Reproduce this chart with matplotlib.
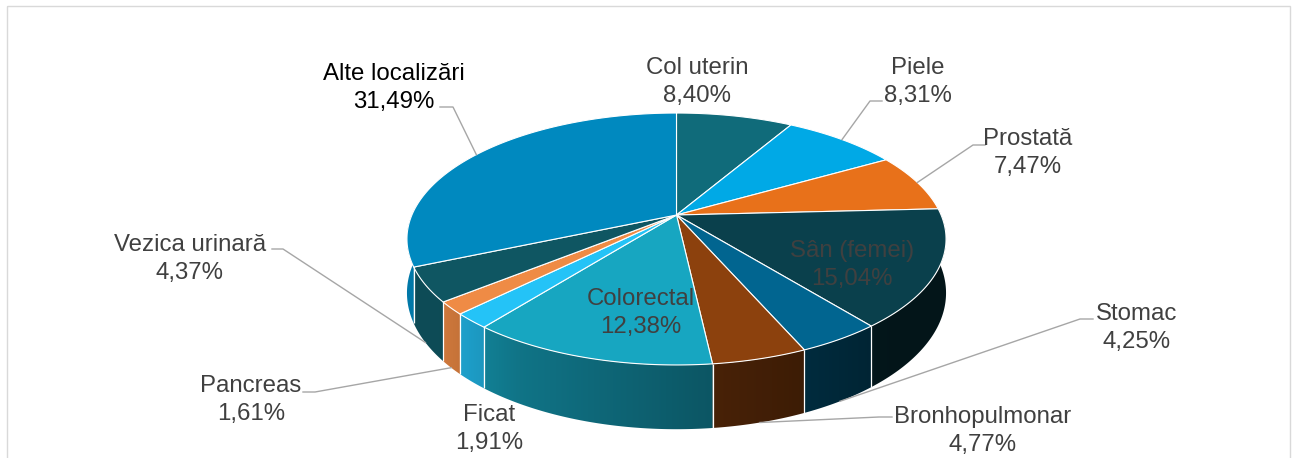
import numpy as np
import matplotlib
matplotlib.use("Agg")
import matplotlib.pyplot as plt
from matplotlib.patches import Polygon, Rectangle
from matplotlib.colors import to_rgb

# ---- data -------------------------------------------------------------
categories = ["Col uterin", "Piele", "Prostată", "Sân (femei)", "Stomac",
              "Bronhopulmonar", "Colorectal", "Ficat", "Pancreas",
              "Vezica urinară", "Alte localizări"]
shares = [8.40, 8.31, 7.47, 15.04, 4.25, 4.77, 12.38, 1.91, 1.61, 4.37, 31.49]
colors = ["#106b7a", "#00a9e6", "#e8711a", "#0a404c", "#016590", "#8c410d",
          "#17a6c1", "#24c3f7", "#ef8b45", "#0f5662", "#0089bf"]

# ---- layout -----------------------------------------------------------
W, H = 1293, 458
CX, CY = 676.5, 215.0          # apex of the top face
A, B, K = 264.6, 121.4, 0.1905  # disc radii and perspective strength
DEPTH = 52.0                    # thickness of the disc
FONT = "Liberation Sans"
FS = 17.3
TXT = "#404040"
LEADER = "#a6a6a6"

# label placement: centre x, first baseline, second baseline
label_pos = {
    "Col uterin": (697, 74, 102),
    "Piele": (918, 74, 102),
    "Prostată": (1028, 145, 173),
    "Sân (femei)": (852, 257, 285),
    "Stomac": (1137, 320, 348),
    "Bronhopulmonar": (983, 423, 451),
    "Colorectal": (641, 305, 333),
    "Ficat": (489, 421, 449),
    "Pancreas": (251, 392, 420),
    "Vezica urinară": (190, 251, 279),
    "Alte localizări": (394, 80, 108),
}
# leader lines: points next to the label, the end lands on the slice
leader_pts = {
    "Alte localizări": [(440, 107), (453, 107)],
    "Piele": [(882, 101), (870, 101)],
    "Prostată": [(985, 145), (973, 145)],
    "Stomac": [(1093, 319), (1080, 319)],
    "Bronhopulmonar": [(892, 417), (879, 417)],
    "Pancreas": [(303, 392), (315, 392)],
    "Vezica urinară": [(272, 249), (283, 249)],
}

fig = plt.figure(figsize=(W / 100, H / 100), dpi=100)
ax = fig.add_axes([0, 0, 1, 1])
ax.axis("off")

ax.add_patch(Rectangle((7, 6), 1283, 470, fill=False, ec="#d9d9d9", lw=1.0))


def rim(theta, bottom=False):
    """Screen position of the disc rim at angle theta (clockwise from 12 o'clock)."""
    u = np.sin(theta)
    v = np.cos(theta)
    w = 1 + K * v
    x = CX + A * u / w
    y = CY - B * v / w
    if bottom:
        y = y + DEPTH / w
    return x, y


def shade(u):
    f = 0.55 - 0.3 * u + 0.3 * np.maximum(0.0, -u - 0.5)
    return np.clip(f, 0.33, 0.88)


total = sum(shares)
edges = np.concatenate([[0.0], np.cumsum(shares)]) / total * 2 * np.pi

# horizontal position -> rim coordinate u along the visible front wall
tf = np.linspace(np.pi / 2 + np.arcsin(K), 1.5 * np.pi - np.arcsin(K), 800)
xf, _ = rim(tf)
uf = np.sin(tf)
ordr = np.argsort(xf)
xf, uf = xf[ordr], uf[ordr]

# ---- side wall with a left-to-right light falloff -------------------------
t_lo, t_hi = np.deg2rad(86.0), np.deg2rad(274.0)
for i, c in enumerate(colors):
    t0, t1 = max(edges[i], t_lo), min(edges[i + 1], t_hi)
    if t1 <= t0:
        continue
    ts = np.linspace(t0, t1, 200)
    xt, yt = rim(ts)
    xb, yb = rim(ts[::-1], True)
    pts = np.column_stack([np.concatenate([xt, xb]), np.concatenate([yt, yb])])
    clip = Polygon(pts, closed=True, fc="none", ec="none", zorder=1)
    ax.add_patch(clip)
    x0, x1 = pts[:, 0].min() - 2, pts[:, 0].max() + 2
    y0, y1 = pts[:, 1].min() - 2, pts[:, 1].max() + 2
    cols = np.linspace(x0, x1, 300)
    u = np.interp(cols, xf, uf)
    rgb = np.array(to_rgb(c))[None, :] * shade(u)[:, None]
    img = np.repeat(rgb[None, :, :], 2, axis=0)
    im = ax.imshow(img, extent=(x0, x1, y1, y0), aspect="auto",
                   interpolation="bilinear", zorder=1)
    im.set_clip_path(clip)

# white seams on the visible wall
for t in edges[:-1]:
    if np.cos(t) < -K:
        x0, y0 = rim(t)
        x1, y1 = rim(t, True)
        ax.plot([x0, x1], [y0, y1], color="white", lw=0.9,
                solid_capstyle="butt", zorder=2)

# ---- top face ------------------------------------------------------------
for i, c in enumerate(colors):
    ts = np.linspace(edges[i], edges[i + 1], 200)
    xs, ys = rim(ts)
    pts = [(CX, CY)] + list(zip(xs, ys))
    ax.add_patch(Polygon(pts, closed=True, fc=c, ec="white", lw=0.8,
                         joinstyle="round", zorder=3))

# ---- leader lines --------------------------------------------------------
for i, name in enumerate(categories):
    if name not in leader_pts:
        continue
    tm = (edges[i] + edges[i + 1]) / 2
    ex, ey = rim(tm, bottom=np.cos(tm) < -K)
    pts = leader_pts[name] + [(ex, ey)]
    ax.plot([p[0] for p in pts], [p[1] for p in pts], color=LEADER, lw=1.0,
            zorder=4)

# ---- labels --------------------------------------------------------------
for name, val in zip(categories, shares):
    x, b1, b2 = label_pos[name]
    col = "#000000" if name == "Alte localizări" else TXT
    pct = f"{val:.2f}".replace(".", ",") + "%"
    ax.text(x, b1, name, ha="center", va="baseline", fontsize=FS,
            family=FONT, color=col, zorder=5)
    ax.text(x, b2, pct, ha="center", va="baseline", fontsize=FS,
            family=FONT, color=col, zorder=5)

ax.set_xlim(0, W)
ax.set_ylim(H, 0)
fig.savefig("out.png", dpi=100)
